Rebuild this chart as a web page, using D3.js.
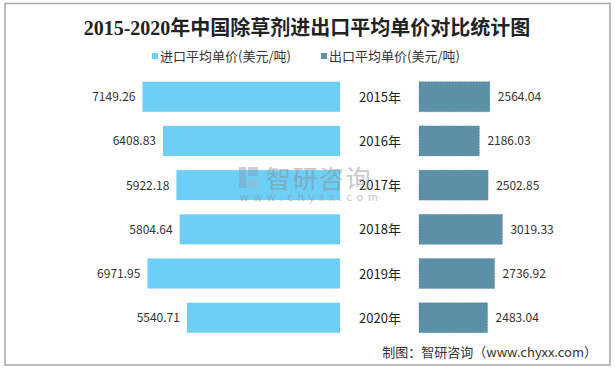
<!DOCTYPE html>
<html><head><meta charset="utf-8">
<script src="https://cdn.jsdelivr.net/npm/d3@7"></script>
<style>body{margin:0;background:#fff}svg{display:block}</style>
</head><body>
<svg id="c" width="615" height="369"></svg>
<script>
const years = ["2015年","2016年","2017年","2018年","2019年","2020年"];
const importPrice = [7149.26, 6408.83, 5922.18, 5804.64, 6971.95, 5540.71];
const exportPrice = [2564.04, 2186.03, 2502.85, 3019.33, 2736.92, 2483.04];
const seriesNames = ["进口平均单价(美元/吨)", "出口平均单价(美元/吨)"];
const colors = ["#6dcff6", "#5b90a7"];
const title = "2015-2020年中国除草剂进出口平均单价对比统计图";
const source = "制图：智研咨询（www.chyxx.com）";

const svg = d3.select("#c");
const font = "'Noto Sans CJK SC', sans-serif";

svg.append("rect").attr("x",5).attr("y",3.5).attr("width",605).attr("height",361.5)
  .attr("fill","#fff").attr("stroke","#a6a6a6").attr("stroke-width",1.5);

svg.append("text").attr("x",307).attr("y",35).attr("text-anchor","middle")
  .attr("font-family","'Liberation Serif','Noto Sans CJK SC',serif").attr("font-weight","bold")
  .attr("font-size",20).attr("fill","#222").text(title);

// legend
const leg = [{x:152, t:seriesNames[0], c:colors[0]}, {x:321, t:seriesNames[1], c:colors[1]}];
leg.forEach(l=>{
  svg.append("rect").attr("x",l.x).attr("y",53).attr("width",6).attr("height",6).attr("fill",l.c);
  svg.append("text").attr("x",l.x+8).attr("y",60.5).attr("font-family",font).attr("font-size",13)
    .attr("fill","#333").text(l.t);
});

const y = d3.scaleBand().domain(years).range([67.56, 346.9]).paddingInner(0.32).paddingOuter(0.32);
const xl = d3.scaleLinear().domain([0, 8000]).range([340, 119]);
const xr = d3.scaleLinear().domain([0, 8000]).range([419, 640]);

const rows = years.map((yr,i)=>({yr, imp:importPrice[i], exp:exportPrice[i]}));

svg.selectAll(".bl").data(rows).enter().append("rect")
  .attr("x",d=>xl(d.imp)).attr("y",d=>y(d.yr)).attr("width",d=>xl(0)-xl(d.imp))
  .attr("height",y.bandwidth()).attr("fill",colors[0]);

svg.selectAll(".br").data(rows).enter().append("rect")
  .attr("x",xr(0)).attr("y",d=>y(d.yr)).attr("width",d=>xr(d.exp)-xr(0))
  .attr("height",y.bandwidth()).attr("fill",colors[1])
  .attr("stroke","#55869c").attr("stroke-width",0.5).attr("stroke-dasharray","1.5,1.5");

svg.selectAll(".ll").data(rows).enter().append("text")
  .attr("x",d=>xl(d.imp)-7).attr("y",d=>y(d.yr)+y.bandwidth()/2+4.5)
  .attr("text-anchor","end").attr("font-family",font).attr("font-size",12).attr("fill","#333")
  .text(d=>d.imp.toFixed(2));

svg.selectAll(".lr").data(rows).enter().append("text")
  .attr("x",d=>xr(d.exp)+8).attr("y",d=>y(d.yr)+y.bandwidth()/2+4.5)
  .attr("font-family",font).attr("font-size",12).attr("fill","#333")
  .text(d=>d.exp.toFixed(2));

svg.selectAll(".yl").data(rows).enter().append("text")
  .attr("x",380).attr("y",d=>y(d.yr)+y.bandwidth()/2+5)
  .attr("text-anchor","middle").attr("font-family",font).attr("font-size",13).attr("fill","#222")
  .text(d=>d.yr);

// watermark (drawn over bars, semi-transparent)
const wm = svg.append("g").attr("opacity",0.45);
wm.append("rect").attr("x",239).attr("y",167).attr("width",7).attr("height",21).attr("fill","#8796b3");
wm.append("rect").attr("x",248).attr("y",167).attr("width",10).attr("height",9).attr("fill","#8796b3");
wm.append("rect").attr("x",248).attr("y",179).attr("width",10).attr("height",9).attr("fill","#a9b3c6");
wm.append("text").attr("x",266).attr("y",188).attr("font-family",font).attr("font-size",25)
  .attr("fill","#888").attr("letter-spacing",1.5).text("智研咨询");
wm.append("text").attr("x",240).attr("y",201).attr("font-family",font).attr("font-size",11)
  .attr("fill","#888").attr("letter-spacing",4.6).text("www.chyxx.com");

svg.append("text").attr("x",597).attr("y",357).attr("text-anchor","end")
  .attr("font-family",font).attr("font-size",13).attr("fill","#333").text(source);
</script>
</body></html>
